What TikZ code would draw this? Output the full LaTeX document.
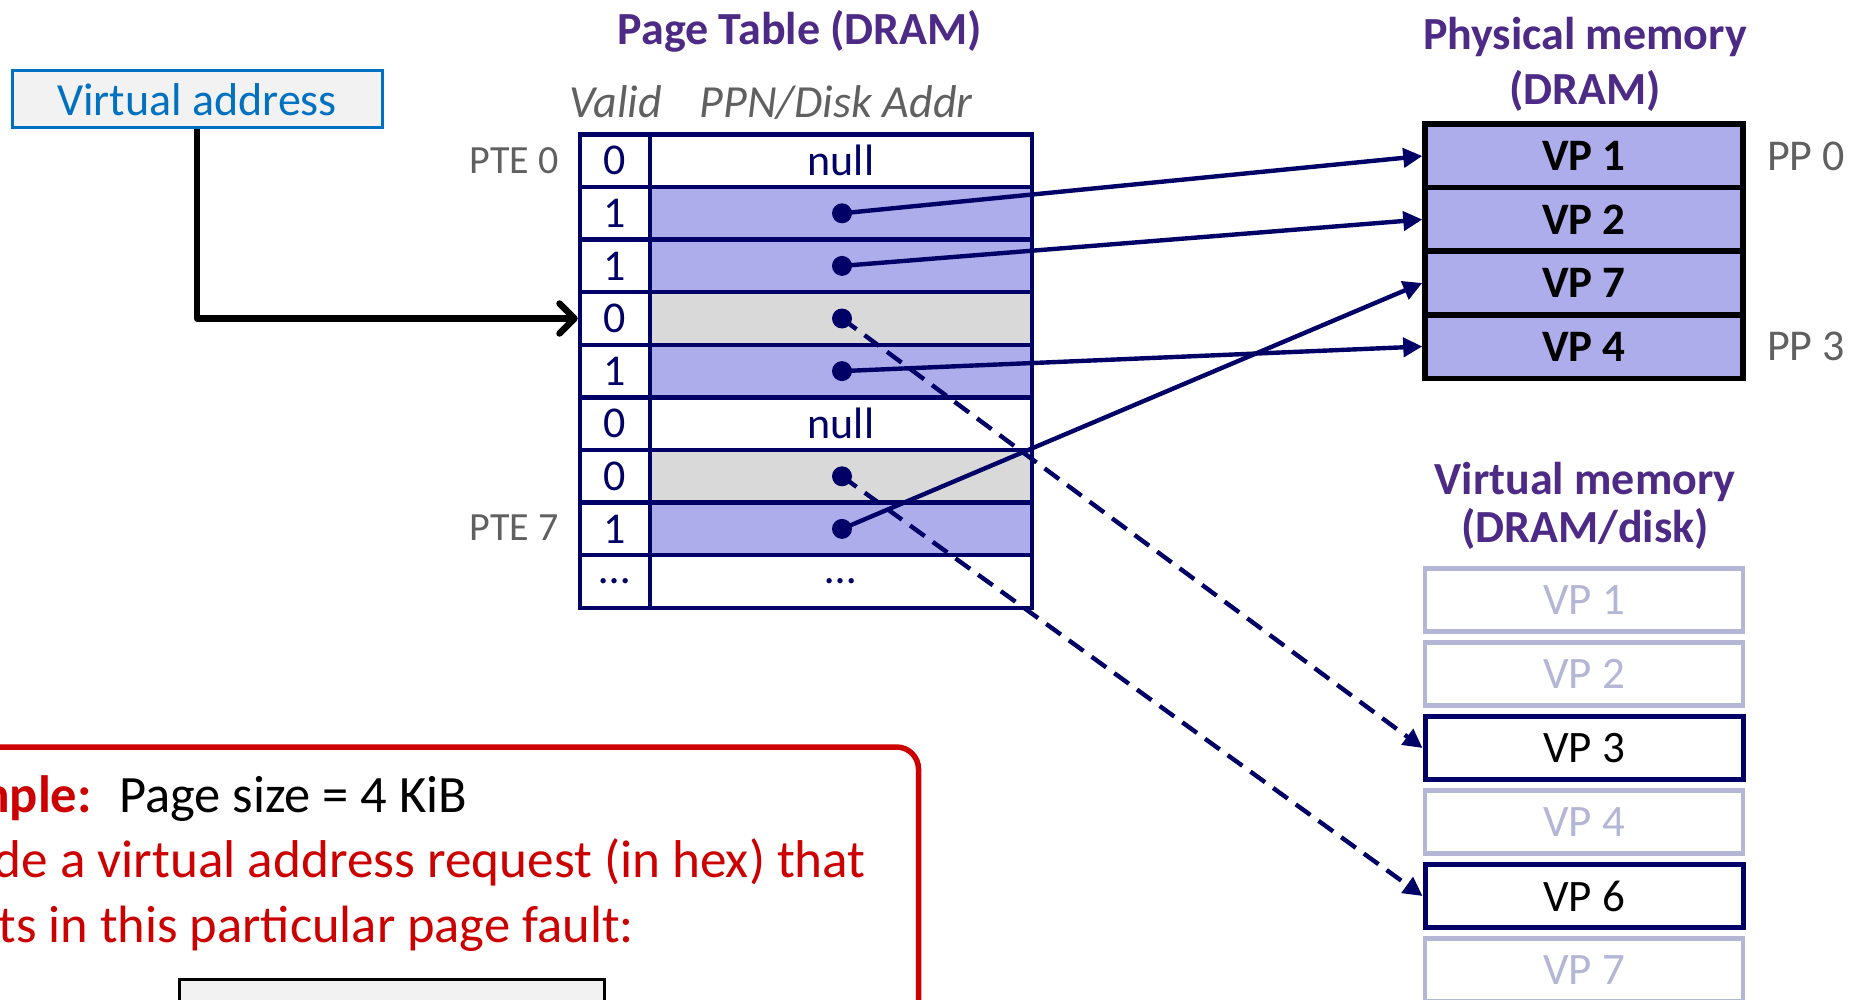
\documentclass[tikz,border=0pt]{standalone}
\usepackage{fontspec}
\setmainfont{Carlito}
\usetikzlibrary{arrows.meta}
\definecolor{navy}{RGB}{0,0,102}
\definecolor{lav}{RGB}{173,173,235}
\definecolor{rowgray}{RGB}{217,217,217}
\definecolor{ttl}{RGB}{77,42,133}
\definecolor{lblgray}{RGB}{96,96,96}
\definecolor{vablue}{RGB}{0,112,192}
\definecolor{vafill}{RGB}{242,242,242}
\definecolor{faint}{RGB}{180,182,214}
\definecolor{exred}{RGB}{204,0,0}
\newcommand{\myfs}[1]{\fontsize{#1}{#1}\selectfont}
\begin{document}
\begin{tikzpicture}[x=1pt,y=-1pt,
  cellv/.style={draw=navy, fill=white, line width=4.5pt, minimum width=70pt, minimum height=52.6pt, inner sep=0pt, text=navy, font=\myfs{44}},
  cellp/.style={cellv, minimum width=382pt},
  ptrdot/.style={circle, fill=navy, minimum size=20pt, inner sep=0pt},
  pmem/.style={draw=black, line width=5.5pt, fill=lav, minimum width=318pt, minimum height=63.5pt, inner sep=0pt, font=\bfseries\myfs{45}},
  vmem/.style={draw=faint, line width=4.5pt, fill=white, minimum width=318pt, minimum height=63pt, inner sep=0pt, text=faint, font=\myfs{45}},
  vmemon/.style={vmem, draw=navy, line width=5pt, text=black},
  ptr/.style={navy, line width=4.4pt, -{Triangle[length=19pt,width=19pt]}},
  ptrd/.style={ptr, dash pattern=on 18pt off 10pt},
  ttlstyle/.style={text=ttl, font=\bfseries\myfs{46}, anchor=base, inner sep=0pt},
  hdr/.style={text=lblgray, font=\itshape\myfs{46}, anchor=base, inner sep=0pt},
  lbl/.style={text=lblgray, font=\myfs{40}, inner sep=0pt}
]
\useasboundingbox (0,0) rectangle (1849,1000);
\clip (0,0) rectangle (1849,1000);
\fill[white] (0,0) rectangle (1849,1000);

% titles
\node[ttlstyle] (pttitle) at (800,45) {Page Table (DRAM)};
\node[hdr] (hvalid) at (616,118) {Valid};
\node[hdr] (hppn) at (836,118) {PPN/Disk Addr};
\node[ttlstyle] (phys1) at (1585,50) {Physical memory};
\node[ttlstyle] (phys2) at (1585,105) {(DRAM)};
\node[ttlstyle] (virt1) at (1585,494) {Virtual memory};
\node[ttlstyle] (virt2) at (1585,542) {(DRAM/disk)};

% virtual address
\node[draw=vablue, fill=vafill, line width=3pt, minimum width=370pt, minimum height=57pt, inner sep=0pt, text=vablue, font=\myfs{46}] (va) at (197,99.5) {Virtual address};

% page table
\foreach \i/\v/\f/\t in {1/0/white/null, 2/1/lav/{}, 3/1/lav/{}, 4/0/rowgray/{}, 5/1/lav/{}, 6/0/white/null, 7/0/rowgray/{}, 8/1/lav/{}, 9/{\ldots}/white/{\ldots}}{
  \node[cellv] (v\i) at (615,108.1+52.6*\i) {\v};
  \node[cellp, fill=\f] (p\i) at (841,108.1+52.6*\i) {\t};
}
\node[lbl, anchor=east] (pte0) at (559,161) {PTE 0};
\node[lbl, anchor=east] (pte7) at (559,528) {PTE 7};

% physical memory
\node[pmem] (pm1) at (1584,156) {VP 1};
\node[pmem] (pm2) at (1584,219.5) {VP 2};
\node[pmem] (pm3) at (1584,283) {VP 7};
\node[pmem] (pm4) at (1584,346.5) {VP 4};
\node[lbl, font=\myfs{44}, anchor=west] (pp0) at (1767,156) {PP 0};
\node[lbl, font=\myfs{44}, anchor=west] (pp3) at (1767,346.5) {PP 3};

% virtual memory
\node[vmem] (vm1) at (1584,600) {VP 1};
\node[vmem] (vm2) at (1584,674) {VP 2};
\node[vmemon] (vm3) at (1584,748) {VP 3};
\node[vmem] (vm4) at (1584,822) {VP 4};
\node[vmemon] (vm6) at (1584,896) {VP 6};
\node[vmem] (vm7) at (1584,970) {VP 7};

% pointer dots
\foreach \i in {2,3,4,5,7,8}{
  \node[ptrdot] (d\i) at (842,108.1+52.6*\i) {};
}

% connectors
\draw[ptr] (d2.center) -- (pm1.west);
\draw[ptr] (d3.center) -- (pm2.west);
\draw[ptr] (d5.center) -- (pm4.west);
\draw[ptr] (d8.center) -- (pm3.west);
\draw[ptrd] (d4.center) -- (vm3.west);
\draw[ptrd] (d7.center) -- (vm6.west);
\draw[black, line width=6.5pt, line join=round, -{Straight Barb[length=15pt,width=30pt,round]}] (va.south) |- (v4.west);

% example box
\node[draw=exred, line width=5.5pt, rounded corners=22pt, minimum width=1018pt, minimum height=353pt, inner sep=0pt] (exbox) at (409.5,923.5) {};
\node[anchor=base east, inner sep=0pt, text=exred, font=\bfseries\myfs{52.5}] (exlbl) at (92,812) {Example:};
\node[anchor=base west, inner sep=0pt, text=black, font=\myfs{52.5}] (pgsize) at (119,812) {Page size = 4 KiB};
\node[anchor=base east, inner sep=0pt, text=exred, font=\myfs{53.2}] (line2) at (866,877) {Provide a virtual address request (in hex) that};
\node[anchor=base east, inner sep=0pt, text=exred, font=\myfs{52.5}] (line3) at (634,942) {results in this particular page fault:};
\node[draw=black, fill=vafill, line width=3pt, minimum width=425pt, minimum height=80pt, inner sep=0pt, anchor=north west] (ans) at (178,978) {};
\end{tikzpicture}
\end{document}
